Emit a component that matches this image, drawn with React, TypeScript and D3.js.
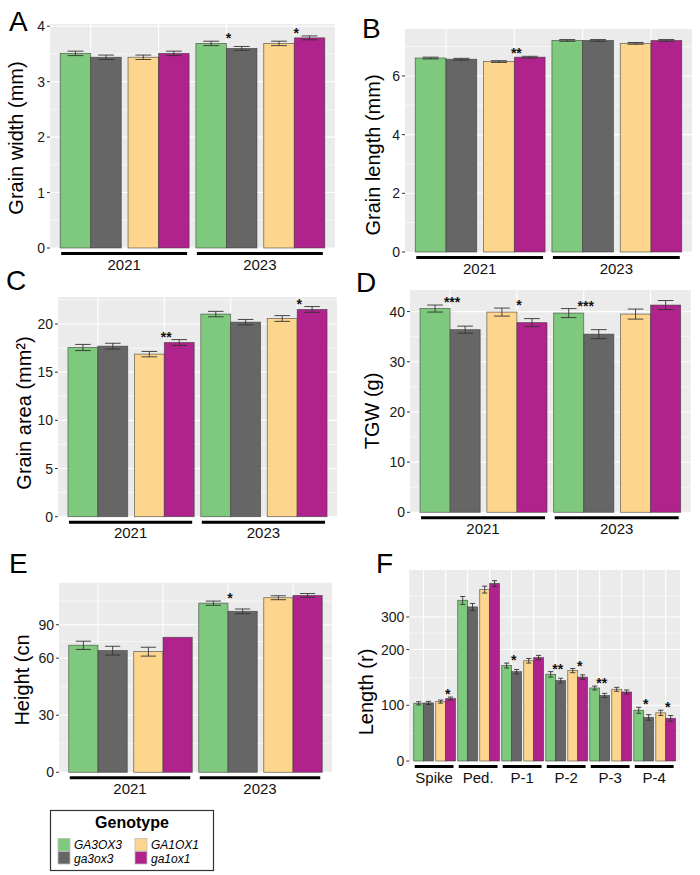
import React from "react";
import * as d3 from "d3";

const genotypes = ["GA3OX3", "ga3ox3", "GA1OX1", "ga1ox1"];
const genotypeColors = ["#7fc97f", "#666666", "#fdd58c", "#b0228c"];
const years = ["2021", "2023"];
const organs = ["Spike", "Ped.", "P-1", "P-2", "P-3", "P-4"];

// values in genotype order: GA3OX3, ga3ox3, GA1OX1, ga1ox1
// significance per pair: 2021 (GA3OX3/ga3ox3), 2021 (GA1OX1/ga1ox1), 2023 ..., 2023 ...

// A - grain width
const widthMean2021 = [3.51, 3.44, 3.44, 3.51];
const widthMean2023 = [3.69, 3.6, 3.69, 3.79];
const widthErr2021 = [0.04, 0.04, 0.04, 0.04];
const widthErr2023 = [0.04, 0.035, 0.04, 0.035];
const widthSig = ["", "", "*", "*"];
const widthTicks = [0, 1, 2, 3, 4];

// B - grain length
const lengthMean2021 = [6.61, 6.57, 6.49, 6.64];
const lengthMean2023 = [7.21, 7.21, 7.11, 7.21];
const lengthErr2021 = [0.03, 0.03, 0.03, 0.03];
const lengthErr2023 = [0.03, 0.03, 0.03, 0.03];
const lengthSig = ["", "**", "", ""];
const lengthTicks = [0, 2, 4, 6];

// C - grain area
const areaMean2021 = [17.56, 17.7, 16.87, 18.08];
const areaMean2023 = [21.03, 20.19, 20.57, 21.51];
const areaErr2021 = [0.32, 0.3, 0.28, 0.3];
const areaErr2023 = [0.28, 0.28, 0.3, 0.3];
const areaSig = ["", "**", "", "*"];
const areaTicks = [0, 5, 10, 15, 20];

// D - thousand grain weight
const tgwMean2021 = [40.6, 36.4, 39.9, 37.8];
const tgwMean2023 = [39.7, 35.5, 39.5, 41.3];
const tgwErr2021 = [0.7, 0.7, 0.8, 0.8];
const tgwErr2023 = [0.9, 0.9, 1.0, 0.9];
const tgwSig = ["***", "*", "***", ""];
const tgwTicks = [0, 10, 20, 30, 40];

// E - plant height (log axis, bottom labelled 0)
const heightMean2021 = [70.2, 65.8, 65.0, 77.3];
const heightMean2023 = [117, 106, 125, 128.5];
const heightErr2021 = [3.5, 3.5, 3.5, 0];
const heightErr2023 = [3, 3, 3, 3];
const heightSig = ["", "", "*", ""];
const heightTicks = [15, 30, 60, 90];
const heightTickLabels = ["0", "30", "60", "90"];
const heightMinor = [21.2, 42.4, 73.5, 120];

// F - organ length (log axis, bottom labelled 0)
const spikeLen = [102.5, 103, 104.7, 108.7];
const pedLen = [369, 340, 422, 455];
const p1Len = [164, 152, 174, 181];
const p2Len = [147, 136, 154, 142];
const p3Len = [124, 113, 122, 118];
const p4Len = [94, 86, 91, 85];
const spikeErr = [2, 2, 2, 2];
const pedErr = [18, 15, 18, 16];
const p1Err = [5, 4, 5, 5];
const p2Err = [5, 4, 4, 4];
const p3Err = [3, 3, 3, 3];
const p4Err = [3.5, 3, 3, 3];
const organSig = ["", "*", "", "", "*", "", "**", "*", "**", "", "*", "*"];
const organTicks = [50, 100, 200, 300];
const organTickLabels = ["0", "100", "200", "300"];
const organMinor = [70.7, 141, 245, 390];

const FONT = "'Liberation Sans', Arial, Helvetica, sans-serif";

type Pair = { vals: number[]; errs: number[]; cols: number[]; sig: string };
type Group = { label: string; from: number; to: number };

function yearPairs(m21: number[], e21: number[], m23: number[], e23: number[], sig: string[]): Pair[] {
  const means = [m21, m23];
  const errs = [e21, e23];
  return years.flatMap((_, yi) =>
    [[0, 1], [2, 3]].map((cols, pi) => ({
      vals: cols.map((c) => means[yi][c]),
      errs: cols.map((c) => errs[yi][c]),
      cols,
      sig: sig[yi * 2 + pi],
    }))
  );
}

const yearGroups: Group[] = years.map((y, i) => ({ label: y, from: i * 2, to: i * 2 + 1 }));

interface PanelProps {
  frame: { l: number; r: number; t: number; b: number };
  y: d3.ScaleContinuousNumeric<number, number>;
  ticks: number[];
  tickLabels?: string[];
  minor: number[];
  pairs: Pair[];
  groups: Group[];
  outer: number;
  yLabel: string;
  yLabelPos: [number, number];
  letter: string;
  letterPos: [number, number];
}

function Panel(p: PanelProps) {
  const { l, r, t, b } = p.frame;
  const x = d3
    .scaleBand<number>()
    .domain(d3.range(p.pairs.length))
    .range([l, r])
    .paddingInner(0.1)
    .paddingOuter(p.outer);
  const bw = x.bandwidth();
  const half = bw / 2;
  const cap = half * 0.26;
  const base = p.y.range()[0];
  return (
    <g>
      <rect x={l} y={t} width={r - l} height={b - t} fill="#ebebeb" />
      {p.minor.map((v, i) => (
        <line key={"mi" + i} x1={l} x2={r} y1={p.y(v)} y2={p.y(v)} stroke="#fff" strokeWidth={0.6} />
      ))}
      {p.ticks.map((v, i) => (
        <line key={"ma" + i} x1={l} x2={r} y1={p.y(v)} y2={p.y(v)} stroke="#fff" strokeWidth={1.1} />
      ))}
      {p.pairs.map((_, i) => {
        const cx = (x(i) as number) + half;
        return <line key={"vg" + i} x1={cx} x2={cx} y1={t} y2={b} stroke="#fff" strokeWidth={1.1} />;
      })}
      {p.pairs.map((pr, i) =>
        pr.vals.map((v, k) => {
          const x0 = (x(i) as number) + k * half;
          const yv = p.y(v);
          return (
            <rect
              key={`b${i}-${k}`}
              x={x0}
              y={yv}
              width={half}
              height={base - yv}
              fill={genotypeColors[pr.cols[k]]}
              stroke="#3a3a3a"
              strokeOpacity={0.7}
              strokeWidth={0.8}
            />
          );
        })
      )}
      {p.pairs.map((pr, i) =>
        pr.vals.map((v, k) => {
          if (!pr.errs[k]) return null;
          const cx = (x(i) as number) + k * half + half / 2;
          const y1 = p.y(v + pr.errs[k]);
          const y2 = p.y(v - pr.errs[k]);
          return (
            <g key={`e${i}-${k}`} stroke="#333" strokeWidth={0.9}>
              <line x1={cx} x2={cx} y1={y1} y2={y2} />
              <line x1={cx - cap} x2={cx + cap} y1={y1} y2={y1} />
              <line x1={cx - cap} x2={cx + cap} y1={y2} y2={y2} />
            </g>
          );
        })
      )}
      {p.pairs.map((pr, i) => {
        if (!pr.sig) return null;
        const top = d3.min(pr.vals.map((v, k) => p.y(v + pr.errs[k]))) as number;
        const cx = (x(i) as number) + half + 2;
        return (
          <text key={"s" + i} x={cx} y={top + 2} textAnchor="middle" fontSize={14} fontWeight="bold" fontFamily={FONT} fill="#111">
            {pr.sig}
          </text>
        );
      })}
      {p.ticks.map((v, i) => (
        <g key={"t" + i}>
          <line x1={l - 3} x2={l} y1={p.y(v)} y2={p.y(v)} stroke="#333" strokeWidth={1} />
          <text x={l - 5} y={p.y(v)} dy="0.36em" textAnchor="end" fontSize={14} fontFamily={FONT} fill="#1a1a1a">
            {p.tickLabels ? p.tickLabels[i] : String(v)}
          </text>
        </g>
      ))}
      {p.groups.map((g, i) => {
        const x0 = (x(g.from) as number) + 1;
        const x1 = (x(g.to) as number) + bw - 2;
        return (
          <g key={"g" + i}>
            <line x1={x0} x2={x1} y1={b + 5.5} y2={b + 5.5} stroke="#000" strokeWidth={3} />
            <text x={(x0 + x1) / 2} y={b + 21.5} textAnchor="middle" fontSize={15} fontFamily={FONT} fill="#111">
              {g.label}
            </text>
          </g>
        );
      })}
      <text
        transform={`translate(${p.yLabelPos[0]},${p.yLabelPos[1]}) rotate(-90)`}
        dy="0.35em"
        textAnchor="middle"
        fontSize={20}
        fontFamily={FONT}
        fill="#000"
      >
        {p.yLabel}
      </text>
      <text x={p.letterPos[0]} y={p.letterPos[1]} fontSize={28} fontFamily={FONT} fill="#000">
        {p.letter}
      </text>
    </g>
  );
}

function Legend() {
  const cols = [
    [0, 1],
    [2, 3],
  ];
  const colX = [58, 135];
  return (
    <g fontFamily={FONT}>
      <rect x={50.5} y={810.5} width={163} height={60} fill="#fff" stroke="#333" strokeWidth={1.2} />
      <text x={132} y={828} textAnchor="middle" fontSize={16} fontWeight="bold" fill="#000">
        Genotype
      </text>
      {cols.map((c, ci) =>
        c.map((g, ri) => (
          <g key={g}>
            <rect
              x={colX[ci]}
              y={838.5 + ri * 13}
              width={12}
              height={12.5}
              fill={genotypeColors[g]}
              stroke="#bbb"
              strokeWidth={0.8}
            />
            <text x={colX[ci] + 16} y={849 + ri * 14} fontSize={12} fontStyle="italic" fill="#000">
              {genotypes[g]}
            </text>
          </g>
        ))
      )}
    </g>
  );
}

export default function App() {
  const yA = d3.scaleLinear().domain([0, 4.04]).range([248, 24]);
  const yB = d3.scaleLinear().domain([0, 7.6]).range([252, 29]);
  const yC = d3.scaleLinear().domain([0, 22.8]).range([516.7, 297]);
  const yD = d3.scaleLinear().domain([0, 44.3]).range([512.3, 290]);
  const yE = d3.scaleLog().domain([15, 150]).range([772.3, 582.7]);
  const yF = d3.scaleLog().domain([50, 538]).range([761, 570]);

  const organMeans = [spikeLen, pedLen, p1Len, p2Len, p3Len, p4Len];
  const organErrs = [spikeErr, pedErr, p1Err, p2Err, p3Err, p4Err];
  const organPairs: Pair[] = organs.flatMap((_, oi) =>
    [[0, 1], [2, 3]].map((cols, pi) => ({
      vals: cols.map((c) => organMeans[oi][c]),
      errs: cols.map((c) => organErrs[oi][c]),
      cols,
      sig: organSig[oi * 2 + pi],
    }))
  );
  const organGroups: Group[] = organs.map((o, i) => ({ label: o, from: i * 2, to: i * 2 + 1 }));

  return (
    <svg width={700} height={875} style={{ position: "absolute", left: 0, top: 0, background: "#fff" }}>
      <Panel
        frame={{ l: 50, r: 335, t: 24, b: 248 }}
        y={yA}
        ticks={widthTicks}
        minor={[0.5, 1.5, 2.5, 3.5]}
        pairs={yearPairs(widthMean2021, widthErr2021, widthMean2023, widthErr2023, widthSig)}
        groups={yearGroups}
        outer={0.15}
        yLabel="Grain width (mm)"
        yLabelPos={[16, 138]}
        letter="A"
        letterPos={[9, 31]}
      />
      <Panel
        frame={{ l: 405, r: 692, t: 29, b: 252 }}
        y={yB}
        ticks={lengthTicks}
        minor={[1, 3, 5, 7]}
        pairs={yearPairs(lengthMean2021, lengthErr2021, lengthMean2023, lengthErr2023, lengthSig)}
        groups={yearGroups}
        outer={0.15}
        yLabel="Grain length (mm)"
        yLabelPos={[373, 155]}
        letter="B"
        letterPos={[362, 38]}
      />
      <Panel
        frame={{ l: 58, r: 337, t: 297, b: 516.7 }}
        y={yC}
        ticks={areaTicks}
        minor={[2.5, 7.5, 12.5, 17.5, 22.5]}
        pairs={yearPairs(areaMean2021, areaErr2021, areaMean2023, areaErr2023, areaSig)}
        groups={yearGroups}
        outer={0.15}
        yLabel="Grain area (mm²)"
        yLabelPos={[24, 413]}
        letter="C"
        letterPos={[6, 290]}
      />
      <Panel
        frame={{ l: 410, r: 690.7, t: 290, b: 512.3 }}
        y={yD}
        ticks={tgwTicks}
        minor={[5, 15, 25, 35]}
        pairs={yearPairs(tgwMean2021, tgwErr2021, tgwMean2023, tgwErr2023, tgwSig)}
        groups={yearGroups}
        outer={0.15}
        yLabel="TGW (g)"
        yLabelPos={[372, 411]}
        letter="D"
        letterPos={[356, 292]}
      />
      <Panel
        frame={{ l: 59, r: 332, t: 582.7, b: 772.3 }}
        y={yE}
        ticks={heightTicks}
        tickLabels={heightTickLabels}
        minor={heightMinor}
        pairs={yearPairs(heightMean2021, heightErr2021, heightMean2023, heightErr2023, heightSig)}
        groups={yearGroups}
        outer={0.15}
        yLabel="Height (cn"
        yLabelPos={[22, 680]}
        letter="E"
        letterPos={[9, 573]}
      />
      <Panel
        frame={{ l: 409.3, r: 680, t: 570, b: 761 }}
        y={yF}
        ticks={organTicks}
        tickLabels={organTickLabels}
        minor={organMinor}
        pairs={organPairs}
        groups={organGroups}
        outer={0.2}
        yLabel="Length (r)"
        yLabelPos={[366, 692]}
        letter="F"
        letterPos={[376, 573]}
      />
      <Legend />
    </svg>
  );
}
